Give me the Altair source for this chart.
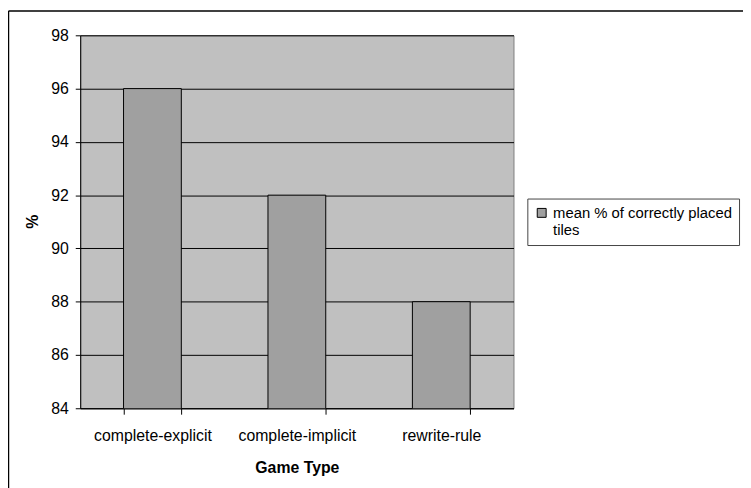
import altair as alt
import pandas as pd

categories = ["complete-explicit", "complete-implicit", "rewrite-rule"]
values = [96, 92, 88]
series_name = "mean % of correctly placed tiles"
legend_lines = ["mean % of correctly placed", "tiles"]
y_ticks = [84, 86, 88, 90, 92, 94, 96, 98]

df = pd.DataFrame({"Game Type": categories, "value": values, "series": [series_name] * 3})

FONT = "Liberation Sans"
NBSP = "\u00a0"
label_expr = "['" + legend_lines[0] + NBSP * 6 + "', '" + legend_lines[1] + "']"

bars = alt.Chart(df).mark_bar(stroke="black", strokeWidth=1, clip=True).encode(
    x=alt.X("Game Type:N", sort=categories,
            scale=alt.Scale(paddingInner=0.6, paddingOuter=0.3),
            axis=alt.Axis(labelAngle=0, tickBand="extent", tickSize=6, labelPadding=14,
                          labelFontSize=16, labelFont=FONT, labelColor="black",
                          title="Game Type", titleFont=FONT, titleFontSize=16,
                          titleFontWeight="bold", titleColor="black",
                          titleY=60, titleBaseline="middle",
                          domainColor="black", tickColor="black", grid=False)),
    y=alt.Y("value:Q", scale=alt.Scale(domain=[84, 98], nice=False, zero=False),
            axis=alt.Axis(values=y_ticks, tickSize=5, labelPadding=7,
                          labelFontSize=16, labelFont=FONT, labelColor="black",
                          title="%", titleFont=FONT, titleFontSize=16,
                          titleFontWeight="bold", titleColor="black",
                          titleAngle=-90, titleX=-48, titleY=188,
                          titleBaseline="middle", titleAlign="center",
                          domainColor="black", tickColor="black",
                          grid=True, gridColor="black", gridOpacity=1, gridWidth=1)),
    color=alt.Color("series:N", scale=alt.Scale(range=["#A0A0A0"]),
                    legend=alt.Legend(title=None, orient="none", legendX=452, legendY=165,
                                      symbolType="square", symbolSize=81,
                                      symbolStrokeColor="black", symbolStrokeWidth=1,
                                      labelFont=FONT, labelFontSize=15, labelColor="black",
                                      labelExpr=label_expr,
                                      labelLimit=400, labelOffset=4,
                                      strokeColor="#444444", padding=7)),
)

frame_data = alt.Data(values=[{"k": 1}])
left_border = alt.Chart(frame_data).mark_rule(color="black", strokeWidth=1.5).encode(
    x=alt.value(-72.5), y=alt.value(-24.5), y2=alt.value(480))
top_border = alt.Chart(frame_data).mark_rule(color="black", strokeWidth=1.5).encode(
    x=alt.value(-72.5), x2=alt.value(700), y=alt.value(-24.5))

chart = alt.layer(bars, left_border, top_border).properties(
    width=438, height=377,
    autosize=alt.AutoSizeParams(type="none"),
    padding={"left": 73, "top": 25, "right": 232, "bottom": 78},
).configure(background="white", view=alt.ViewConfig(stroke="#808080", fill="#C0C0C0"))

chart.save("out.html", embed_options={"renderer": "svg", "actions": False})
